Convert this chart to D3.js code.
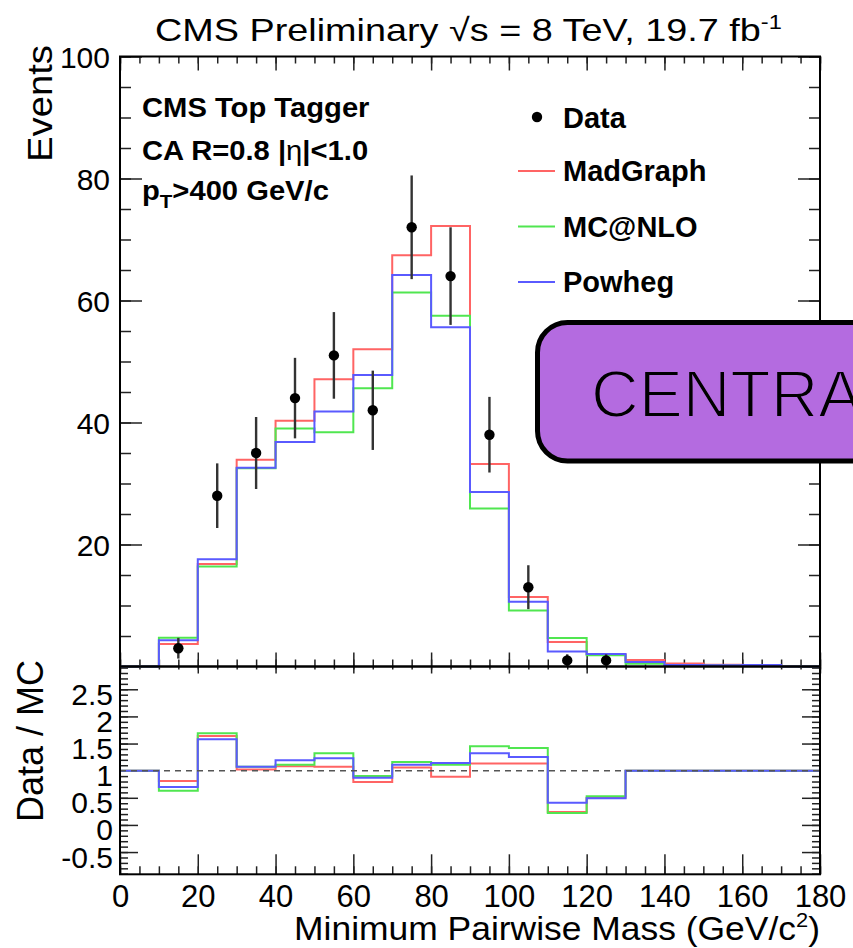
<!DOCTYPE html>
<html>
<head>
<meta charset="utf-8">
<script src="https://cdn.jsdelivr.net/npm/d3@7"></script>
<style>
  body { margin: 0; background: #fff; }
  svg { display: block; }
  text { font-family: "Liberation Sans", Arial, Helvetica, sans-serif; fill: #000; }
</style>
</head>
<body>
<svg id="chart" width="853" height="948"></svg>
<script>
// Bin edges of the minimum pairwise mass histogram (GeV/c^2)
const binEdges = [0, 10, 20, 30, 40, 50, 60, 70, 80, 90, 100, 110, 120, 130, 140, 150, 160, 170, 180];

// Observed events per bin, with Poisson uncertainties
const dataCounts = [0, 3, 28, 35, 44, 51, 42, 72, 64, 38, 13, 1, 1, 0, 0, 0, 0, 0];
const dataErrors = [0, 1.7, 5.3, 5.9, 6.6, 7.1, 6.5, 8.5, 8.0, 6.2, 3.6, 1.0, 1.0, 0, 0, 0, 0, 0];

// Simulated expectations per bin
const madgraph = [0, 3.7, 16.8, 33.9, 40.3, 47.1, 52.0, 67.4, 72.2, 33.2, 11.4, 4.0, 1.95, 1.05, 0.5, 0.3, 0.15, 0];
const mcatnlo  = [0, 4.7, 16.4, 32.5, 39.0, 38.4, 45.6, 61.3, 57.5, 25.9, 9.2, 4.66, 1.85, 0.45, 0.2, 0.15, 0.1, 0];
const powheg   = [0, 4.3, 17.6, 32.6, 36.8, 41.8, 47.8, 64.2, 55.6, 28.6, 10.6, 2.46, 2.05, 0.75, 0.25, 0.2, 0.25, 0];

// Data / MC ratios per bin
const ratioMadgraph = [1, 0.81, 1.64, 1.02, 1.08, 1.07, 0.79, 1.06, 0.89, 1.13, 1.13, 0.24, 0.50, 1, 1, 1, 1, 1];
const ratioMcatnlo  = [1, 0.63, 1.69, 1.07, 1.11, 1.32, 0.90, 1.16, 1.11, 1.45, 1.42, 0.22, 0.53, 1, 1, 1, 1, 1];
const ratioPowheg   = [1, 0.70, 1.58, 1.07, 1.19, 1.23, 0.87, 1.11, 1.14, 1.32, 1.25, 0.41, 0.49, 1, 1, 1, 1, 1];

// Axis tick values
const xMajorTicks = [0, 20, 40, 60, 80, 100, 120, 140, 160, 180];
const yMainLabels = [20, 40, 60, 80, 100];
const yRatioLabels = [-0.5, 0, 0.5, 1, 1.5, 2, 2.5];

const series = [
  { name: "MadGraph", main: madgraph, ratio: ratioMadgraph, color: "#ff6464" },
  { name: "MC@NLO",   main: mcatnlo,  ratio: ratioMcatnlo,  color: "#50e650" },
  { name: "Powheg",   main: powheg,   ratio: ratioPowheg,   color: "#5a5aff" }
];

const svg = d3.select("#chart");
svg.append("rect").attr("width", 853).attr("height", 948).attr("fill", "#fff");

// Frame geometry
const left = 120, right = 820;
const mainTop = 56.5, mainBottom = 666.5;
const ratioTop = 666.5, ratioBottom = 874.3;

const x = d3.scaleLinear().domain([0, 180]).range([left, right]);
const yMain = d3.scaleLinear().domain([0, 100]).range([mainBottom, mainTop]);
const yRatio = d3.scaleLinear().domain([-0.91, 2.92]).range([ratioBottom, ratioTop]);

const xMinor = d3.range(0, 181, 5);
const yMainMinor = d3.range(0, 101, 5);
const yRatioMinor = d3.range(-0.9, 2.95, 0.1).map(v => +v.toFixed(2));
const yRatioMajor = [-0.5, 0, 0.5, 1, 1.5, 2, 2.5];

// Tick marks drawn by d3 axes (labels off), pointing into the frames
function tickAxis(axis, values, size, transform) {
  const g = svg.append("g")
    .attr("transform", transform)
    .call(axis.tickValues(values).tickSize(size).tickFormat(""));
  g.select(".domain").remove();
  g.selectAll(".tick line").attr("stroke", "#222").attr("stroke-width", 1.5);
  return g;
}

// Main panel ticks
tickAxis(d3.axisBottom(x), xMinor, -7, `translate(0,${mainBottom})`);
tickAxis(d3.axisBottom(x), xMajorTicks, -14, `translate(0,${mainBottom})`);
tickAxis(d3.axisTop(x), xMinor, -7, `translate(0,${mainTop})`);
tickAxis(d3.axisTop(x), xMajorTicks, -14, `translate(0,${mainTop})`);
tickAxis(d3.axisLeft(yMain), yMainMinor, -11, `translate(${left},0)`);
tickAxis(d3.axisLeft(yMain), [0, 20, 40, 60, 80, 100], -22, `translate(${left},0)`);
tickAxis(d3.axisRight(yMain), yMainMinor, -11, `translate(${right},0)`);
tickAxis(d3.axisRight(yMain), [0, 20, 40, 60, 80, 100], -22, `translate(${right},0)`);

// Ratio panel ticks
tickAxis(d3.axisBottom(x), xMinor, -8, `translate(0,${ratioBottom})`);
tickAxis(d3.axisBottom(x), xMajorTicks, -20, `translate(0,${ratioBottom})`);
tickAxis(d3.axisTop(x), xMinor, -3, `translate(0,${ratioTop})`);
tickAxis(d3.axisTop(x), xMajorTicks, -7, `translate(0,${ratioTop})`);
tickAxis(d3.axisLeft(yRatio), yRatioMinor, -8, `translate(${left},0)`);
tickAxis(d3.axisLeft(yRatio), yRatioMajor, -18, `translate(${left},0)`);
tickAxis(d3.axisRight(yRatio), yRatioMinor, -8, `translate(${right},0)`);
tickAxis(d3.axisRight(yRatio), yRatioMajor, -18, `translate(${right},0)`);

// Tick labels
function labelAxis(axis, values, transform, fontSize, fmt) {
  const g = svg.append("g")
    .attr("transform", transform)
    .call(axis.tickValues(values).tickSize(0).tickPadding(0).tickFormat(fmt));
  g.select(".domain").remove();
  g.selectAll(".tick text")
    .attr("font-family", '"Liberation Sans", Arial, sans-serif')
    .attr("font-size", fontSize)
    .attr("fill", "#000");
  return g;
}
const gx = labelAxis(d3.axisBottom(x), xMajorTicks, `translate(0,${ratioBottom})`, 31, d3.format("d"));
gx.selectAll(".tick text").attr("dy", 0).attr("y", 33);
const gy = labelAxis(d3.axisLeft(yMain), yMainLabels, `translate(${left - 10},0)`, 30, d3.format("d"));
gy.selectAll(".tick text").attr("dy", "0.35em");
const gr = labelAxis(d3.axisLeft(yRatio), yRatioLabels, `translate(${left - 7},0)`, 30, d => String(d));
gr.selectAll(".tick text").attr("dy", "0.5em");

// Histogram step lines
const stepMain = d3.line()
  .x(d => x(d[0])).y(d => yMain(d[1]))
  .curve(d3.curveStepAfter);
const stepRatio = d3.line()
  .x(d => x(d[0])).y(d => yRatio(d[1]))
  .curve(d3.curveStepAfter);
function stepPoints(values) {
  const pts = values.map((v, i) => [binEdges[i], v]);
  pts.push([binEdges[binEdges.length - 1], values[values.length - 1]]);
  return pts;
}

series.forEach(s => {
  svg.append("path")
    .attr("d", stepMain(stepPoints(s.main)))
    .attr("fill", "none")
    .attr("stroke", s.color)
    .attr("stroke-width", 2);
});

// Data points with error bars
const dataPts = dataCounts
  .map((c, i) => ({ c, e: dataErrors[i], xc: (binEdges[i] + binEdges[i + 1]) / 2 }))
  .filter(d => d.c > 0);
svg.append("g").selectAll("line").data(dataPts).join("line")
  .attr("x1", d => x(d.xc)).attr("x2", d => x(d.xc))
  .attr("y1", d => yMain(d.c - d.e)).attr("y2", d => yMain(d.c + d.e))
  .attr("stroke", "#333").attr("stroke-width", 2.4);
svg.append("g").selectAll("circle").data(dataPts).join("circle")
  .attr("cx", d => x(d.xc)).attr("cy", d => yMain(d.c))
  .attr("r", 5.2).attr("fill", "#000");

// Ratio panel lines
series.forEach(s => {
  svg.append("path")
    .attr("d", stepRatio(stepPoints(s.ratio)))
    .attr("fill", "none")
    .attr("stroke", s.color)
    .attr("stroke-width", 2);
});
svg.append("line")
  .attr("x1", left).attr("x2", right)
  .attr("y1", yRatio(1)).attr("y2", yRatio(1))
  .attr("stroke", "#555").attr("stroke-width", 1.5).attr("stroke-dasharray", "6,5");

// Frames
svg.append("rect").attr("x", left).attr("y", mainTop)
  .attr("width", right - left).attr("height", mainBottom - mainTop)
  .attr("fill", "none").attr("stroke", "#000").attr("stroke-width", 2);
svg.append("rect").attr("x", left).attr("y", ratioTop)
  .attr("width", right - left).attr("height", ratioBottom - ratioTop)
  .attr("fill", "none").attr("stroke", "#000").attr("stroke-width", 2);

// Widen a text group horizontally so that it spans the given width
function stretchTo(g, width) {
  const w = g.node().getBBox().width;
  return w > 0 ? width / w : 1;
}

// Title
const titleG = svg.append("g");
const title = titleG.append("text").attr("x", 0).attr("y", 0).attr("font-size", 32);
title.append("tspan").text("CMS Preliminary √s = 8 TeV, 19.7 fb");
title.append("tspan").attr("dy", -12).attr("font-size", 20).text("-1");
titleG.attr("transform", `translate(155,41) scale(${stretchTo(titleG, 627)},1)`);

// Axis titles
const evG = svg.append("g");
evG.append("text").attr("text-anchor", "end").attr("font-size", 35).text("Events");
evG.attr("transform", `translate(52,45) rotate(-90) scale(${stretchTo(evG, 117)},1)`);

svg.append("text")
  .attr("transform", "translate(43,822) rotate(-90)")
  .attr("font-size", 36)
  .text("Data / MC");

const xtG = svg.append("g");
const xTitle = xtG.append("text").attr("text-anchor", "end").attr("font-size", 34);
xTitle.append("tspan").text("Minimum Pairwise Mass (GeV/c");
xTitle.append("tspan").attr("dy", -13).attr("font-size", 21).text("2");
xTitle.append("tspan").attr("dy", 13).text(")");
xtG.attr("transform", `translate(820,940) scale(${stretchTo(xtG, 526)},1)`);

// Selection labels
const info = svg.append("g").attr("font-weight", "bold").attr("font-size", 27);
const line1 = info.append("text").attr("x", 0).attr("y", 0).text("CMS Top Tagger");
const eta = info.append("text").attr("x", 0).attr("y", 43);
eta.append("tspan").text("CA R=0.8 |");
eta.append("tspan").attr("font-weight", "normal").text("η");
eta.append("tspan").text("|<1.0");
const pt = info.append("text").attr("x", 0).attr("y", 83);
pt.append("tspan").text("p");
pt.append("tspan").attr("dy", 8).attr("font-size", 19).text("T");
pt.append("tspan").attr("dy", -8).text(">400 GeV/c");
const infoScale = 228 / line1.node().getBBox().width;
info.attr("transform", `translate(142,117) scale(${infoScale},1)`);

// Legend
const legend = svg.append("g");
legend.append("circle").attr("cx", 537).attr("cy", 117).attr("r", 5.2).attr("fill", "#000");
legend.append("text").attr("x", 563).attr("y", 128).attr("font-size", 29).attr("font-weight", "bold").text("Data");
series.forEach((s, i) => {
  const yy = 171 + i * 55.5;
  legend.append("line").attr("x1", 518).attr("x2", 555).attr("y1", yy).attr("y2", yy)
    .attr("stroke", s.color).attr("stroke-width", 2);
  legend.append("text").attr("x", 563).attr("y", yy + 10)
    .attr("font-size", 29).attr("font-weight", "bold").text(s.name);
});

// Region badge (label drawn with a thin fill-coloured outline for a light face)
const badgeFill = "#b46be0";
const badge = svg.append("g");
badge.append("rect")
  .attr("x", 537.5).attr("y", 322.5)
  .attr("width", 360).attr("height", 138.5)
  .attr("rx", 30).attr("ry", 30)
  .attr("fill", badgeFill).attr("stroke", "#000").attr("stroke-width", 5);
badge.append("text")
  .attr("x", 591).attr("y", 417)
  .attr("font-family", "'Roboto Light', Roboto, Inter, sans-serif")
  .attr("font-weight", 300)
  .attr("font-size", 66)
  .attr("stroke", badgeFill)
  .attr("stroke-width", 2)
  .text("CENTRA");
</script>
</body>
</html>
